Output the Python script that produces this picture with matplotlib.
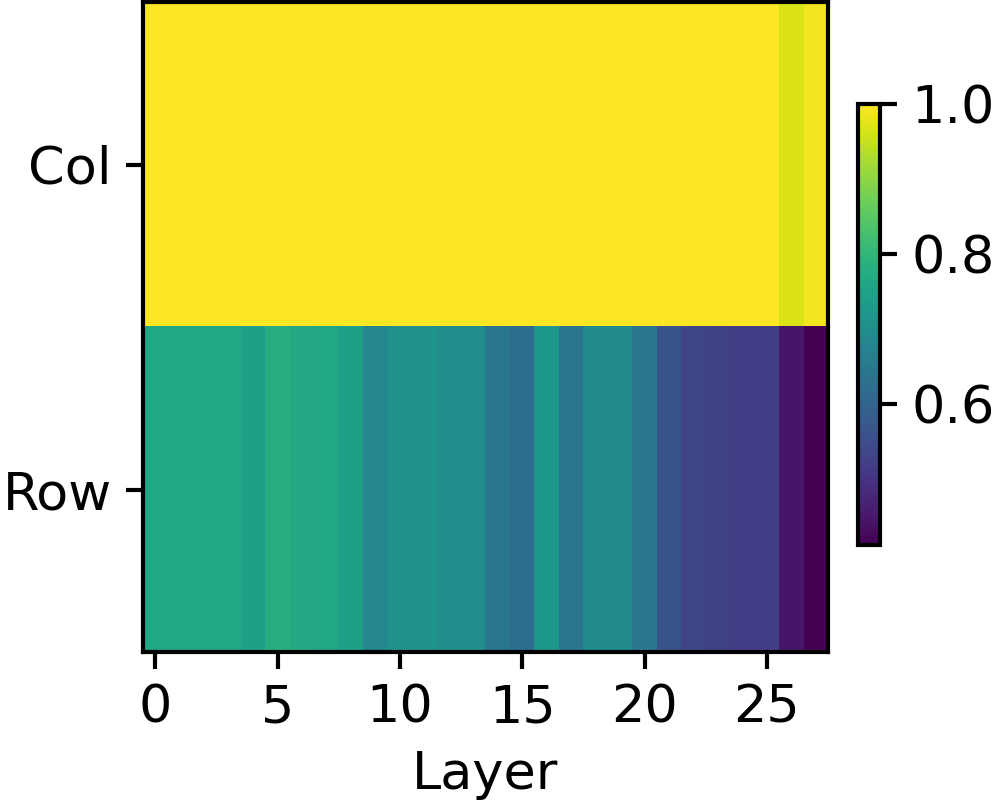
import matplotlib

matplotlib.use("Agg")
import matplotlib.pyplot as plt
import numpy as np

# similarity per layer, two rows
row_labels = ["Col", "Row"]
col_vals = [1.0] * 26 + [0.97, 0.99]
row_vals = [
    0.764, 0.764, 0.762, 0.762, 0.745, 0.778, 0.768, 0.764, 0.745, 0.685,
    0.712, 0.712, 0.702, 0.702, 0.642, 0.625, 0.725, 0.642, 0.692, 0.692,
    0.645, 0.565, 0.536, 0.526, 0.522, 0.520, 0.447, 0.412,
]
xticks = [0, 5, 10, 15, 20, 25]
cbar_ticks = [0.6, 0.8, 1.0]

plt.rcParams["font.size"] = 12.6
plt.rcParams["axes.linewidth"] = 1.0
plt.rcParams["xtick.major.width"] = 1.0
plt.rcParams["ytick.major.width"] = 1.0
plt.rcParams["xtick.major.size"] = 4
plt.rcParams["ytick.major.size"] = 4

data = np.array([col_vals, row_vals])

fig = plt.figure(figsize=(999 / 300, 809 / 300), dpi=300)
ax = fig.add_axes([143 / 999, 1 - 652 / 809, (828 - 143) / 999, (652 - 2) / 809])
im = ax.imshow(data, cmap="viridis", aspect="auto", interpolation="nearest",
               vmin=min(row_vals), vmax=1.0)
ax.set_yticks(range(len(row_labels)))
ax.set_yticklabels(row_labels)
ax.set_xticks(xticks)
ax.set_xlabel("Layer")

cax = fig.add_axes([858 / 999, 1 - 545 / 809, 22 / 999, (545 - 104) / 809])
cb = fig.colorbar(im, cax=cax)
cb.set_ticks(cbar_ticks)
cb.outline.set_linewidth(1.0)

fig.savefig("out.png", dpi=300)
